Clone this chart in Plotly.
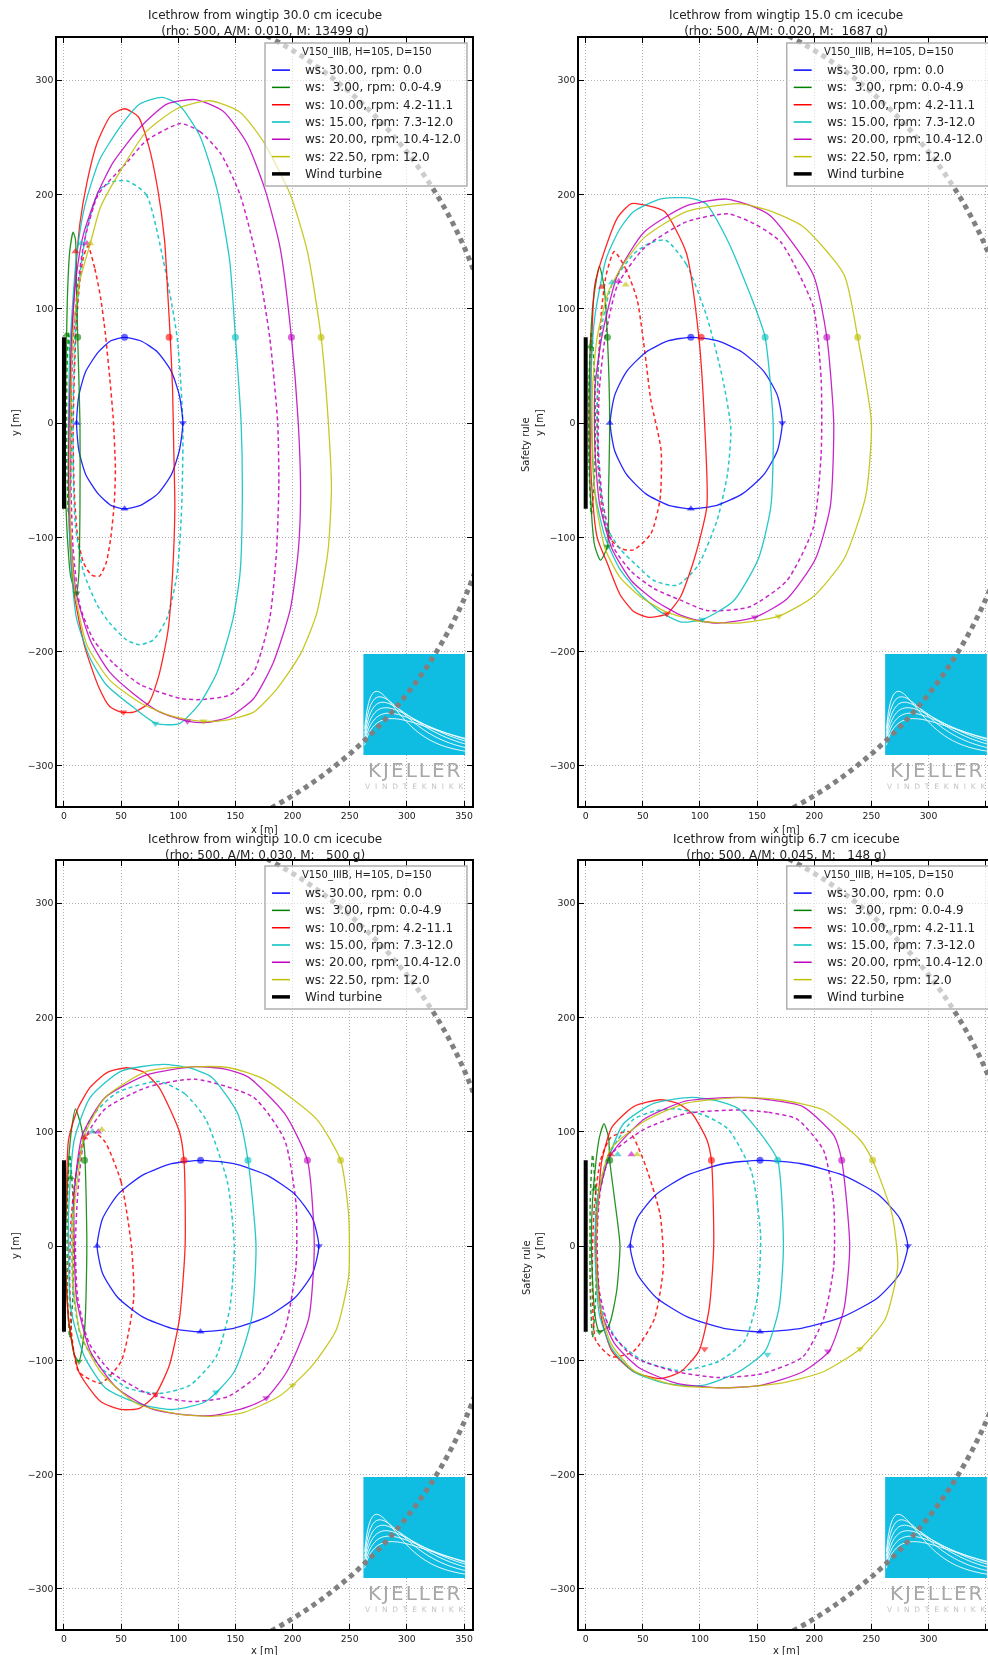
import math
import plotly.graph_objects as go

FONT = "DejaVu Sans"
W, H = 988, 1655

# ---------------- data ----------------
turbine_H = 105
turbine_D = 150
safety_radius = 1.5 * (turbine_H + turbine_D)
turbine_x = [0, 0]
turbine_y = [-turbine_D / 2, turbine_D / 2]

series_keys = ["blue", "green", "red", "cyan", "magenta", "yellow"]
series_labels = ["ws: 30.00, rpm: 0.0",
                 "ws: \u00a03.00, rpm: 0.0-4.9",
                 "ws: 10.00, rpm: 4.2-11.1",
                 "ws: 15.00, rpm: 7.3-12.0",
                 "ws: 20.00, rpm: 10.4-12.0",
                 "ws: 22.50, rpm: 12.0"]
series_colors = {"blue": "#0000ff", "green": "#008000", "red": "#ff0000",
                 "cyan": "#00bfbf", "magenta": "#bf00bf", "yellow": "#bfbf00"}
legend_title = "V150_IIIB, H=105, D=150"

panel_titles = [
    "Icethrow from wingtip 30.0 cm icecube<br>(rho: 500, A/M: 0.010, M: 13499 g)",
    "Icethrow from wingtip 15.0 cm icecube<br>(rho: 500, A/M: 0.020, M: \u00a01687 g)",
    "Icethrow from wingtip 10.0 cm icecube<br>(rho: 500, A/M: 0.030, M: \u00a0\u00a0500 g)",
    "Icethrow from wingtip 6.7 cm icecube<br>(rho: 500, A/M: 0.045, M: \u00a0\u00a0148 g)",
]
x_ticks = [0, 50, 100, 150, 200, 250, 300, 350]
y_ticks = [-300, -200, -100, 0, 100, 200, 300]

# ---- panel 1 : 30.0 cm ----
p1_solid = {
    "blue": [(53,75),(67,72),(82,62),(94,45),(101,24),(104,0),(101,-24),(94,-45),(82,-62),(67,-72),(53,-75),(41,-72),(30,-62),(19,-45),(13,-24),(11,0),(13,24),(19,45),(30,62),(41,72),(53,75)],
    "green": [(8,167),(10,161),(11,120),(12,75),(14,0),(14,-73),(13,-132),(11,-149),(6,-135),(3,-100),(1,-40),(1,5),(2,60),(3,110),(5,150),(8,167)],
    "red": [(53,275),(65,268),(74,243),(82,205),(88,160),(91,110),(93,75),(95,30),(96,-20),(97,-73),(95,-132),(91,-182),(83,-221),(74,-245),(61,-253),(50,-253),(40,-248),(30,-230),(18,-195),(9,-150),(5,-100),(4,-40),(5,20),(7,80),(10,130),(14,175),(20,210),(29,245),(41,269),(53,275)],
    "cyan": [(86,285),(101,278),(119,251),(134,204),(145,142),(150,75),(155,0),(156,-73),(154,-132),(148,-171),(134,-218),(119,-245),(101,-263),(81,-263),(61,-249),(37,-229),(23,-206),(11,-171),(6,-120),(4,-60),(4,0),(5,60),(8,110),(11,146),(18,189),(31,230),(49,259),(66,279),(86,285)],
    "magenta": [(115,283),(139,273),(160,245),(176,204),(189,154),(199,75),(205,0),(207,-61),(205,-112),(198,-163),(183,-210),(166,-241),(145,-257),(125,-262),(109,-261),(84,-253),(61,-237),(40,-218),(23,-190),(11,-150),(6,-100),(4,-40),(5,20),(7,80),(11,130),(17,165),(29,200),(43,228),(67,259),(90,279),(115,283)],
    "yellow": [(128,282),(154,272),(174,247),(198,200),(213,150),(225,75),(231,5),(234,-57),(231,-112),(221,-167),(207,-202),(186,-233),(166,-253),(142,-260),(122,-261),(96,-257),(67,-245),(40,-225),(20,-194),(10,-150),(6,-100),(5,-40),(6,20),(8,80),(14,125),(23,157),(32,189),(49,220),(72,255),(99,275),(128,282)],
}
p1_dashed = {
    "green": [(4,80),(6,40),(6,-40),(4,-80),(2.5,-40),(2.5,40),(4,80)],
    "red": [(21,155),(27,135),(32,110),(36,80),(40,40),(43,5),(45,-40),(44,-70),(41,-100),(37,-122),(31,-134),(24,-133),(17,-122),(12,-100),(9,-60),(8,-10),(9,40),(11,90),(14,125),(17,145),(21,155)],
    "cyan": [(55,212),(72,200),(87,142),(99,75),(104,0),(103,-73),(99,-132),(90,-171),(78,-190),(66,-194),(55,-190),(40,-175),(29,-159),(17,-130),(10,-90),(8,-40),(8,20),(10,80),(14,130),(20,170),(31,204),(42,211),(55,212)],
    "magenta": [(102,262),(119,255),(137,236),(154,200),(169,142),(180,75),(187,0),(188,-54),(186,-112),(180,-171),(166,-218),(145,-238),(119,-242),(102,-241),(67,-229),(43,-210),(26,-190),(14,-160),(8,-110),(6,-50),(6,10),(8,70),(12,120),(18,160),(30,200),(55,228),(72,247),(102,262)],
}
p1_markers = [("blue",53,75,"circle"),("blue",11,0,"triangle-up"),("blue",104,0,"triangle-down"),("blue",53,-75,"triangle-up"),
              ("green",12,75,"circle"),("green",2,77,"triangle-up"),("green",11,-149,"triangle-down"),
              ("red",92,75,"circle"),("red",10,150,"triangle-up"),("red",52,-253,"triangle-down"),
              ("cyan",150,75,"circle"),("cyan",15,157,"triangle-up"),("cyan",80,-263,"triangle-down"),
              ("magenta",199,75,"circle"),("magenta",20,157,"triangle-up"),("magenta",108,-261,"triangle-down"),
              ("yellow",225,75,"circle"),("yellow",23,157,"triangle-up"),("yellow",122,-261,"triangle-down")]

# ---- panel 2 : 15.0 cm ----
p2_solid = {
    "blue": [(92.5,75),(114.8,72),(137,62),(156,45),(167.8,24),(172,0),(167.8,-24),(156,-45),(137,-62),(114.8,-72),(92.5,-75),(72.6,-72),(52.7,-62),(35.7,-45),(25.3,-24),(21.4,0),(25.3,24),(35.7,45),(52.7,62),(72.6,72),(92.5,75)],
    "green": [(12,137),(16,120),(19,75),(21,0),(20,-60),(19,-108),(13,-120),(8,-108),(4,-60),(3,0),(4,67),(7,110),(12,137)],
    "red": [(40,192),(55,190),(69,185),(88,149),(99,75),(104,0),(106,-73),(95,-119),(83,-152),(71,-167),(55,-170),(42,-165),(30,-150),(19,-123),(10,-100),(5,-50),(4,0),(5,60),(8,121),(19,158),(28,180),(40,192)],
    "cyan": [(90,197),(105,192),(125,158),(148,102),(157,75),(164,0),(162,-73),(151,-119),(129,-156),(102,-172),(83,-174),(65,-165),(48,-150),(30,-128),(17,-100),(8,-60),(5,0),(5,50),(8,93),(18,144),(30,170),(42,185),(65,196),(90,197)],
    "magenta": [(123,196),(145,190),(162,181),(199,130),(211,75),(217,0),(214,-73),(201,-119),(176,-154),(148,-170),(116,-175),(100,-173),(83,-168),(60,-155),(40,-138),(23,-110),(12,-70),(8,-20),(8,30),(14,75),(28,130),(51,167),(88,190),(123,196)],
    "yellow": [(134,192),(160,186),(190,172),(226,130),(238,75),(250,0),(245,-64),(226,-119),(199,-152),(169,-169),(134,-175),(97,-173),(70,-165),(48,-152),(30,-135),(17,-110),(9,-70),(6,-20),(6,30),(10,75),(20,115),(33,139),(51,162),(88,185),(134,192)],
}
p2_dashed = {
    "green": [(5,80),(8,40),(8,-40),(5,-80),(3,-40),(3,40),(5,80)],
    "red": [(25,150),(35,135),(45,108),(52,60),(57,20),(66,-24),(65,-67),(57,-97),(42,-111),(31,-110),(22,-102),(15,-80),(11,-40),(10,0),(11,50),(14,100),(18,130),(25,150)],
    "cyan": [(70,160),(88,139),(106,93),(120,38),(127,-5),(124,-45),(115,-85),(98,-125),(80,-142),(60,-138),(45,-125),(30,-110),(18,-90),(12,-50),(10,0),(11,50),(15,90),(23,121),(42,148),(55,157),(70,160)],
    "magenta": [(125,183),(150,173),(171,158),(199,102),(206,38),(206,-27),(199,-92),(176,-138),(143,-161),(106,-164),(83,-155),(60,-145),(40,-130),(25,-110),(15,-70),(11,-20),(12,30),(17,75),(28,121),(51,153),(88,176),(125,183)],
}
p2_markers = [("blue",92,75,"circle"),("blue",21,0,"triangle-up"),("blue",172,0,"triangle-down"),("blue",92,-75,"triangle-up"),
              ("green",19,75,"circle"),("green",4,67,"triangle-up"),("green",19,-108,"triangle-down"),
              ("red",101,75,"circle"),("red",14,119,"triangle-up"),("red",71,-167,"triangle-down"),
              ("cyan",157,75,"circle"),("cyan",23,123,"triangle-up"),("cyan",102,-172,"triangle-down"),
              ("magenta",211,75,"circle"),("magenta",29,124,"triangle-up"),("magenta",148,-170,"triangle-down"),
              ("yellow",238,75,"circle"),("yellow",35,121,"triangle-up"),("yellow",169,-169,"triangle-down")]

# ---- panel 3 : 10.0 cm ----
p3_solid = {
    "blue": [(119.5,75),(148.5,72),(177.5,62),(202.3,45),(217.5,24),(223,0),(217.5,-24),(202.3,-45),(177.5,-62),(148.5,-72),(119.5,-75),(94.2,-72),(68.8,-62),(47.1,-45),(33.8,-24),(29,0),(33.8,24),(47.1,45),(68.8,62),(94.2,72),(119.5,75)],
    "green": [(10,120),(15,105),(18,84),(20,0),(18,-74),(13,-101),(9,-95),(4,-64),(1,0),(3,50),(4,74),(7,105),(10,120)],
    "red": [(55,156),(70,152),(83,139),(101,100),(105,75),(106,0),(101,-64),(92,-105),(80,-130),(66,-142),(50,-143),(32,-136),(13,-110),(4,-64),(1,0),(2,40),(4,93),(12,120),(23,139),(38,152),(55,156)],
    "cyan": [(87,159),(109,156),(129,148),(152,116),(161,75),(168,0),(164,-64),(149,-110),(124,-136),(96,-143),(73,-140),(55,-134),(36,-124),(18,-97),(6,-55),(4,28),(9,93),(23,130),(50,153),(87,159)],
    "magenta": [(115,157),(140,155),(161,148),(193,116),(213,75),(219,0),(214,-64),(195,-110),(177,-133),(160,-141),(133,-148),(110,-148),(78,-143),(46,-124),(23,-92),(11,-46),(9,0),(9,47),(16,97),(36,130),(73,150),(115,157)],
    "yellow": [(120,157),(145,156),(175,146),(221,111),(242,75),(249,28),(249,-27),(238,-74),(216,-106),(189,-131),(156,-146),(129,-149),(100,-147),(64,-138),(32,-110),(14,-75),(8,-30),(8,20),(12,60),(18,97),(36,130),(73,153),(120,157)],
}
p3_dashed = {
    "green": [(5,80),(8,40),(8,-40),(5,-80),(3,-40),(3,40),(5,80)],
    "red": [(36,91),(50,56),(59,0),(61,-46),(50,-101),(32,-120),(13,-110),(7,-80),(5,-30),(6,20),(10,60),(18,95),(26,100),(36,91)],
    "cyan": [(83,144),(106,133),(124,111),(143,56),(149,0),(145,-55),(133,-97),(110,-122),(83,-129),(55,-124),(32,-106),(15,-80),(8,-40),(7,20),(12,70),(23,111),(46,134),(83,144)],
    "magenta": [(115,146),(166,130),(193,93),(203,37),(203,-18),(193,-74),(173,-110),(143,-132),(110,-136),(73,-129),(41,-110),(22,-85),(12,-45),(10,0),(12,45),(18,93),(36,120),(73,139),(115,146)],
}
p3_markers = [("blue",119.5,75,"circle"),("blue",29,0,"triangle-up"),("blue",223,0,"triangle-down"),("blue",119.5,-75,"triangle-up"),
              ("green",18,75,"circle"),("green",6,60,"triangle-up"),("green",13,-101,"triangle-down"),
              ("red",105,75,"circle"),("red",18,95,"triangle-up"),("red",80,-130,"triangle-down"),
              ("cyan",161,75,"circle"),("cyan",25,100,"triangle-up"),("cyan",133,-128,"triangle-down"),
              ("magenta",213,75,"circle"),("magenta",30,100,"triangle-up"),("magenta",177,-133,"triangle-down"),
              ("yellow",242,75,"circle"),("yellow",33,102,"triangle-up"),("yellow",200,-122,"triangle-down")]

# ---- panel 4 : 6.7 cm ----
p4_solid = {
    "blue": [(152.5,75),(188.7,72),(224.9,62),(255.9,45),(274.9,24),(281.8,0),(274.9,-24),(255.9,-45),(224.9,-62),(188.7,-72),(152.5,-75),(120.7,-72),(88.9,-62),(61.6,-45),(44.9,-24),(38.9,0),(44.9,24),(61.6,45),(88.9,62),(120.7,72),(152.5,75)],
    "green": [(16,107),(20,95),(21,75),(28,20),(30,0),(27,-40),(20,-70),(12,-75),(8,-60),(5,0),(6,40),(9,74),(12,95),(16,107)],
    "red": [(65,128),(80,125),(93,116),(106,93),(110,75),(112,0),(108,-55),(99,-92),(83,-110),(65,-116),(42,-110),(23,-92),(14,-64),(9,0),(11,40),(14,74),(23,104),(42,122),(65,128)],
    "cyan": [(93,130),(115,127),(134,120),(157,93),(168,75),(173,0),(169,-55),(157,-92),(134,-110),(102,-122),(69,-120),(42,-110),(23,-90),(12,-60),(8,0),(10,40),(19,74),(33,107),(60,125),(93,130)],
    "magenta": [(134,130),(160,128),(190,122),(217,97),(224,75),(231,0),(226,-55),(213,-92),(190,-110),(153,-122),(116,-124),(79,-120),(46,-106),(25,-85),(13,-55),(9,0),(11,40),(19,74),(28,88),(51,111),(88,127),(134,130)],
    "yellow": [(139,130),(170,128),(208,119),(240,93),(251,75),(268,28),(273,-18),(262,-64),(240,-90),(208,-110),(171,-120),(125,-124),(79,-122),(42,-109),(22,-85),(12,-50),(9,0),(12,50),(22,85),(51,109),(88,125),(139,130)],
}
p4_dashed = {
    "green": [(6,80),(9,40),(9,-40),(6,-80),(4,-40),(4,40),(6,80)],
    "red": [(38,100),(51,74),(65,28),(68,-18),(60,-64),(42,-92),(23,-97),(9,-83),(6,-50),(6,0),(8,40),(13,75),(22,95),(38,100)],
    "cyan": [(79,120),(105,114),(125,102),(145,65),(153,10),(150,-46),(139,-83),(116,-101),(83,-109),(51,-101),(28,-83),(14,-55),(9,-10),(10,40),(18,75),(28,93),(42,111),(60,118),(79,120)],
    "magenta": [(134,119),(160,117),(185,111),(208,84),(217,37),(217,-18),(208,-64),(190,-97),(153,-112),(116,-115),(79,-110),(42,-97),(22,-75),(12,-40),(10,10),(13,50),(22,80),(51,102),(88,116),(134,119)],
}
p4_markers = [("blue",152.5,75,"circle"),("blue",39,0,"triangle-up"),("blue",282,0,"triangle-down"),("blue",152.5,-75,"triangle-up"),
              ("green",21,75,"circle"),("green",8,50,"triangle-up"),("green",12,-75,"triangle-down"),
              ("red",110,75,"circle"),("red",22,80,"triangle-up"),("red",104,-90,"triangle-down"),
              ("cyan",168,75,"circle"),("cyan",28,80,"triangle-up"),("cyan",159,-95,"triangle-down"),
              ("magenta",224,75,"circle"),("magenta",40,80,"triangle-up"),("magenta",212,-92,"triangle-down"),
              ("yellow",251,75,"circle"),("yellow",45,80,"triangle-up"),("yellow",240,-90,"triangle-down")]

panels = [
    dict(solid=p1_solid, dashed=p1_dashed, markers=p1_markers),
    dict(solid=p2_solid, dashed=p2_dashed, markers=p2_markers),
    dict(solid=p3_solid, dashed=p3_dashed, markers=p3_markers),
    dict(solid=p4_solid, dashed=p4_dashed, markers=p4_markers),
]

# ---------------- layout geometry (pixels) ----------------
def px(xp):
    return xp / W

def py(yp):
    return 1 - yp / H

frames = [  # left, right, top, bottom in px
    (57, 472, 38, 806),
    (579, 988, 38, 806),
    (57, 472, 861, 1629),
    (579, 988, 861, 1629),
]
x_ranges = [[-6.1, 357.0], [-5.86, 352.0], [-6.1, 357.0], [-5.86, 352.0]]
y_range = [-335.1, 336.9]
title_cx = [264.5, 786, 264.5, 786]
title_bottom = [39, 39, 863, 863]
xlabel_y = [829, 829, 1650, 1650]
y0_px = [423, 423, 1246, 1246]

fig = go.Figure()

for i, pnl in enumerate(panels):
    sfx = "" if i == 0 else str(i + 1)
    xa, ya = "x" + sfx, "y" + sfx
    for key, pts in pnl["dashed"].items():
        fig.add_trace(go.Scatter(x=[p[0] for p in pts], y=[p[1] for p in pts], mode="lines",
                                 line=dict(color=series_colors[key], width=1.5, dash="4px,3px",
                                           shape="spline", smoothing=0.6),
                                 opacity=0.85, xaxis=xa, yaxis=ya, hoverinfo="skip", showlegend=False))
    for key in series_keys:
        pts = pnl["solid"][key]
        fig.add_trace(go.Scatter(x=[p[0] for p in pts], y=[p[1] for p in pts], mode="lines",
                                 line=dict(color=series_colors[key], width=1.3, shape="spline", smoothing=0.6),
                                 opacity=0.85, xaxis=xa, yaxis=ya, hoverinfo="skip", showlegend=False))
    for key in series_keys:
        ms = [m for m in pnl["markers"] if m[0] == key]
        fig.add_trace(go.Scatter(x=[m[1] for m in ms], y=[m[2] for m in ms], mode="markers",
                                 marker=dict(color=series_colors[key], size=7, symbol=[m[3] for m in ms],
                                             line=dict(width=0)),
                                 opacity=0.6, xaxis=xa, yaxis=ya, hoverinfo="skip", showlegend=False))
    fig.add_trace(go.Scatter(x=turbine_x, y=turbine_y, mode="lines", line=dict(color="black", width=4),
                             xaxis=xa, yaxis=ya, hoverinfo="skip", showlegend=False))

layout = dict(width=W, height=H, margin=dict(l=0, r=0, t=0, b=0), paper_bgcolor="white",
              plot_bgcolor="white", showlegend=False, font=dict(family=FONT, color="#222"))

common = dict(ticks="inside", ticklen=5, tickwidth=1, tickcolor="black", showline=True,
              linecolor="black", linewidth=1.6, showgrid=True, gridcolor="#b0b0b0", griddash="1px,2px",
              gridwidth=1, zeroline=False, fixedrange=True,
              tickfont=dict(family=FONT, size=9.3, color="#222"))

shapes = []
annotations = []

leg_box = (175.9, 352.6, 207.3, 332.5)
leg_rows = [308.8, 293.7, 278.5, 263.4, 248.3, 233.1, 218.0]

for i in range(4):
    sfx = "" if i == 0 else str(i + 1)
    l, r, t, b = frames[i]
    layout["xaxis" + sfx] = dict(common, domain=[px(l), px(r)], range=x_ranges[i], anchor="y" + sfx,
                                 tickvals=x_ticks, mirror="ticks")
    layout["yaxis" + sfx] = dict(common, domain=[py(b), py(t)], range=y_range, anchor="x" + sfx,
                                 tickvals=y_ticks, mirror=("ticks" if i % 2 == 0 else False))
    xr, yr = "x" + sfx, "y" + sfx

    # logo
    shapes.append(dict(type="rect", xref=xr, yref=yr, x0=262, x1=351, y0=-290.5, y1=-202,
                       fillcolor="#10bde2", line=dict(width=0), layer="above"))
    for k in range(6):
        uk = 0.13 + 0.03 * k
        A = 0.63 - 0.054 * k
        pts = []
        for s in range(0, 51):
            u = 0.012 + s * (0.988 / 50)
            v = A * (u / uk) ** 0.6 * math.exp(0.6 * (1 - u / uk))
            pts.append((262 + 89 * u, -290.5 + 88.5 * v))
        path = "M " + " L ".join(f"{a:.2f},{c:.2f}" for a, c in pts)
        shapes.append(dict(type="path", xref=xr, yref=yr, path=path,
                           line=dict(color="rgba(255,255,255,0.9)", width=1), layer="above"))
    annotations.append(dict(xref=xr, yref=yr, x=306.5, y=-303.6, showarrow=False,
                            text="K\u200aJ\u200aE\u200aL\u200aL\u200aE\u200aR",
                            font=dict(family=FONT, size=20, color="#a8a8a8")))
    annotations.append(dict(xref=xr, yref=yr, x=306.5, y=-317.6, showarrow=False,
                            text="\u00a0\u00a0".join(list("VINDTEKNIKK")),
                            font=dict(family=FONT, size=7.5, color="#c4c4c4")))

    # safety circle
    shapes.append(dict(type="circle", xref=xr, yref=yr, x0=-safety_radius, x1=safety_radius,
                       y0=-safety_radius, y1=safety_radius,
                       line=dict(color="#808080", width=5, dash="5px,4.5px"), layer="above"))

    # legend
    shapes.append(dict(type="rect", xref=xr, yref=yr, x0=leg_box[0], x1=leg_box[1], y0=leg_box[2],
                       y1=leg_box[3], fillcolor="rgba(255,255,255,0.6)",
                       line=dict(color="#b0b0b0", width=1.5), layer="above"))
    annotations.append(dict(xref=xr, yref=yr, x=206.5, y=324.6, xanchor="left", yanchor="middle",
                            showarrow=False, text=legend_title,
                            font=dict(family=FONT, size=10, color="#222")))
    entries = [(series_labels[j], series_colors[series_keys[j]], 1.5) for j in range(6)]
    entries.append(("Wind turbine", "black", 3.5))
    for j, (lab, col, lw) in enumerate(entries):
        shapes.append(dict(type="line", xref=xr, yref=yr, x0=182, x1=197.7, y0=leg_rows[j],
                           y1=leg_rows[j], line=dict(color=col, width=lw), layer="above"))
        annotations.append(dict(xref=xr, yref=yr, x=209.1, y=leg_rows[j], xanchor="left",
                                yanchor="middle", showarrow=False, text=lab,
                                font=dict(family=FONT, size=12, color="#222")))

    # titles and labels
    annotations.append(dict(xref="paper", yref="paper", x=px(title_cx[i]), y=py(title_bottom[i]),
                            xanchor="center", yanchor="bottom", showarrow=False, text=panel_titles[i],
                            borderpad=0, font=dict(family=FONT, size=12, color="#222")))
    annotations.append(dict(xref="paper", yref="paper", x=px(title_cx[i]), y=py(xlabel_y[i]),
                            xanchor="center", yanchor="middle", showarrow=False, text="x [m]",
                            borderpad=0, font=dict(family=FONT, size=10, color="#222")))
    if i % 2 == 0:
        annotations.append(dict(xref="paper", yref="paper", x=px(15), y=py(y0_px[i]),
                                xanchor="center", yanchor="middle", showarrow=False, text="y [m]",
                                textangle=-90, font=dict(family=FONT, size=10, color="#222")))
    else:
        annotations.append(dict(xref="paper", yref="paper", x=px(539), y=py(y0_px[i]),
                                xanchor="center", yanchor="middle", showarrow=False, text="y [m]",
                                textangle=-90, font=dict(family=FONT, size=10, color="#222")))
        annotations.append(dict(xref="paper", yref="paper", x=px(526), y=py(y0_px[i] + 22),
                                xanchor="center", yanchor="middle", showarrow=False, text="Safety rule",
                                textangle=-90, font=dict(family=FONT, size=10, color="#222")))

layout["shapes"] = shapes
layout["annotations"] = annotations
fig.update_layout(**layout)
fig.write_html("out.html")
